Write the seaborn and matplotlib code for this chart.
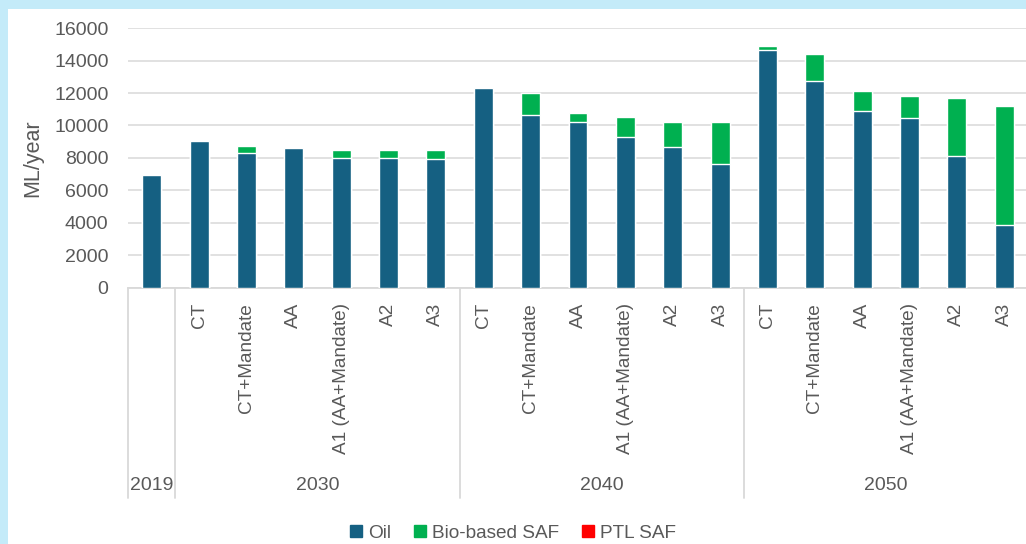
import matplotlib.pyplot as plt
import pandas as pd
import seaborn as sns
from matplotlib.lines import Line2D
from matplotlib.patches import Rectangle

# --- data (ML/year) ---
years = ["2019"] + ["2030"] * 6 + ["2040"] * 6 + ["2050"] * 6
scenarios = [""] + ["CT", "CT+Mandate", "AA", "A1 (AA+Mandate)", "A2", "A3"] * 3
oil = [6950,
       9050, 8280, 8640, 7990, 7990, 7920,
       12330, 10640, 10200, 9280, 8650, 7620,
       14680, 12770, 10900, 10470, 8130, 3880]
bio_saf = [0,
           0, 480, 0, 480, 480, 550,
           0, 1340, 580, 1240, 1560, 2590,
           200, 1620, 1220, 1350, 3560, 7350]
ptl_saf = [0] * 19

df = pd.DataFrame({"year": years, "scenario": scenarios,
                   "Oil": oil, "Bio-based SAF": bio_saf, "PTL SAF": ptl_saf})
df["key"] = df["year"] + "|" + df["scenario"]
df["lvl_oil"] = df["Oil"]
df["lvl_bio"] = df["Oil"] + df["Bio-based SAF"]
df["lvl_ptl"] = df["lvl_bio"] + df["PTL SAF"]

colors = {"Oil": "#156082", "Bio-based SAF": "#00B050", "PTL SAF": "#FF0000"}
grey = "#595959"
line_grey = "#d9d9d9"

sns.set_theme(style="white")
plt.rcParams["font.family"] = ["Liberation Sans", "DejaVu Sans"]

fig = plt.figure(figsize=(10.26, 5.44), dpi=100)
fig.patch.set_facecolor("#c4ebf9")
fig.patches.append(Rectangle((8 / 1026, 0), 1, 1 - 9 / 544, transform=fig.transFigure,
                             facecolor="white", edgecolor="none", zorder=-10))

ax = fig.add_axes([128 / 1026, 1 - 287.5 / 544, 900 / 1026, 259.2 / 544])
ax.set_facecolor("none")

# stacked bars drawn from the top level down
for col, name in [("lvl_ptl", "PTL SAF"), ("lvl_bio", "Bio-based SAF"), ("lvl_oil", "Oil")]:
    sns.barplot(data=df, x="key", y=col, order=list(df["key"]), color=colors[name],
                width=0.4, errorbar=None, saturation=1, ax=ax, zorder=3)

ax.set_ylim(0, 16000)
ax.set_xlim(-0.5, len(df) - 0.5)
ax.set_yticks(range(0, 16001, 2000))
ax.set_yticklabels([str(v) for v in range(0, 16001, 2000)], fontsize=14, color=grey)
ax.yaxis.grid(True, color=line_grey, linewidth=1.1, zorder=0)
ax.xaxis.grid(False)
ax.tick_params(axis="y", length=0, pad=14)
ax.tick_params(axis="x", length=0, pad=11)
ax.set_xticks(range(len(df)))
ax.set_xticklabels(df["scenario"], rotation=90, fontsize=13.7, color=grey)
ax.set_xlabel("")
ax.set_ylabel("ML/year", fontsize=15.5, color=grey, labelpad=8)
for side in ["top", "right", "left"]:
    ax.spines[side].set_visible(False)
ax.spines["bottom"].set_color(line_grey)
ax.spines["bottom"].set_linewidth(1.3)

# multi-level category axis: separators and year labels
trans = ax.get_xaxis_transform()
for xs in [-0.5, 0.5, 6.5, 12.5, 18.5]:
    ax.plot([xs, xs], [0, -0.812], transform=trans, color=line_grey,
            linewidth=1.3, clip_on=False)
for yr in ["2019", "2030", "2040", "2050"]:
    idx = df.index[df["year"] == yr]
    ax.text((idx.min() + idx.max()) / 2, -0.762, yr, transform=trans, ha="center",
            va="center", fontsize=14, color=grey)

handles = [Line2D([], [], linestyle="none", marker="s", markersize=9,
                  markerfacecolor=colors[n], markeredgecolor=colors[n])
           for n in ["Oil", "Bio-based SAF", "PTL SAF"]]
fig.legend(handles, ["Oil", "Bio-based SAF", "PTL SAF"], loc="center",
           bbox_to_anchor=(0.5, 1 - 533 / 544), ncol=3, frameon=False,
           fontsize=13.7, labelcolor=grey, handlelength=0.7, handletextpad=0.3,
           columnspacing=1.15)

fig.savefig("out.png", dpi=100)
